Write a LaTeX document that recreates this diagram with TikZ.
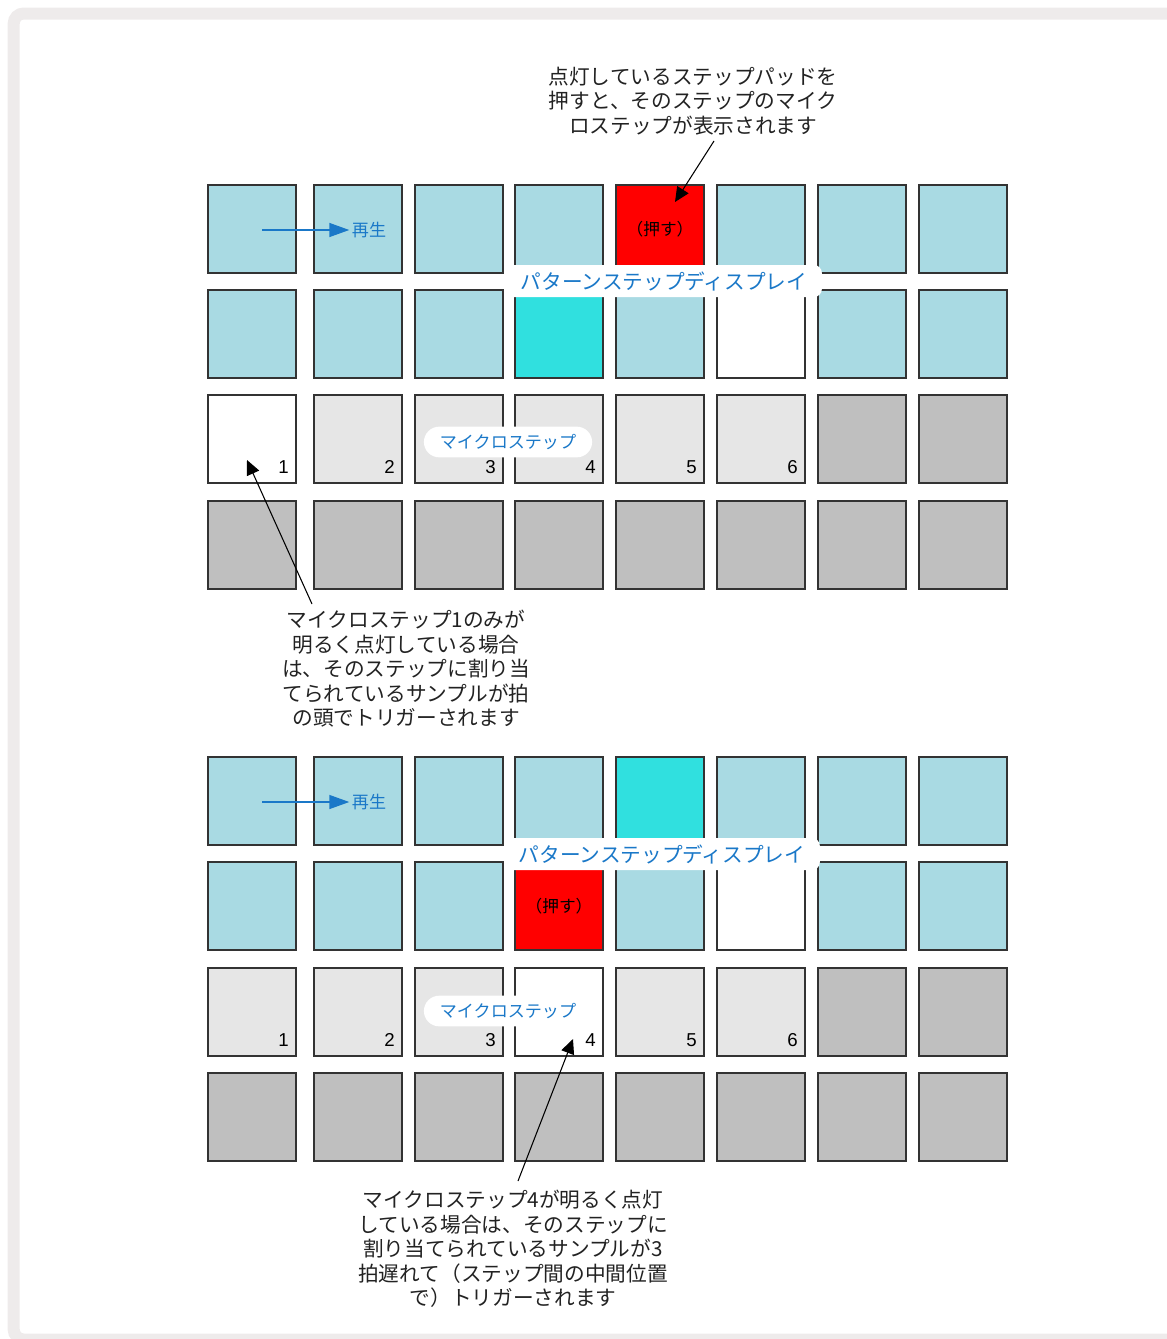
\documentclass[tikz,border=0pt]{standalone}
\usepackage{fontspec}
\newfontfamily\jp{Noto Sans CJK JP}
\newfontfamily\jphalt[RawFeature=+halt]{Noto Sans CJK JP}
\newfontfamily\digitfont{Liberation Sans}
\usetikzlibrary{arrows.meta}
\definecolor{padblue}{HTML}{A9DAE3}
\definecolor{padcyan}{HTML}{30E0DF}
\definecolor{padgray}{HTML}{BFBFBF}
\definecolor{padlight}{HTML}{E6E6E6}
\definecolor{padred}{HTML}{FF0000}
\definecolor{labelblue}{HTML}{1A78C8}
\definecolor{framegray}{HTML}{EEEBEB}
\definecolor{txt}{HTML}{222222}
\tikzset{
  pad/.style={draw=black!80, line width=1pt, minimum width=66pt, minimum height=66pt, inner sep=0pt, outer sep=0pt},
  digit/.style={font=\digitfont\fontsize{14}{16}\selectfont, text=black, inner sep=0pt, anchor=base east},
  pressed/.style={font=\jphalt\fontsize{12.5}{15}\selectfont, text=black, inner sep=0pt},
  patlabel/.style={fill=white, rounded corners=6pt, text=labelblue, font=\jp\fontsize{15.5}{18}\selectfont, inner xsep=11pt, inner ysep=0pt, minimum height=24pt},
  microlabel/.style={fill=white, rounded corners=11.5pt, text=labelblue, font=\jp\fontsize{12.8}{15}\selectfont, inner xsep=12pt, inner ysep=0pt, minimum height=23pt},
  playlabel/.style={text=labelblue, font=\jp\fontsize{12.8}{15}\selectfont, inner sep=2pt, outer sep=0pt},
  playarrow/.style={draw=labelblue, line width=1.1pt, -{Triangle[length=15pt, width=10.5pt]}},
  note/.style={text=txt, font=\jp\fontsize{15.5}{18.4}\selectfont, align=center, inner sep=0pt},
  notearrow/.style={draw=black, line width=0.8pt, -{Triangle[length=11pt, width=10pt]}}
}
\newcommand\padrow[3]{%
  \foreach \cc [count=\i] in {#3} {
    \pgfmathsetmacro\xl{{208,314,415,515,616,717,818,919}[\i-1]}
    \node[pad, fill=\cc] (#1-\i) at (\xl+44, #2+44) {};
  }%
}
\begin{document}
\begin{tikzpicture}[x=0.75pt, y=-0.75pt]
\path[use as bounding box] (0,0) rectangle (1167,1339);
\begin{scope}
\clip (0,0) rectangle (1167,1339);
\draw[framegray, line width=9pt, rounded corners=7.5pt] (13.7,13.5) rectangle (1200,1339.5);
\end{scope}

% ---------- top grid ----------
\padrow{ta1}{185}{padblue,padblue,padblue,padblue,padred,padblue,padblue,padblue}
\padrow{ta2}{290}{padblue,padblue,padblue,padcyan,padblue,white,padblue,padblue}
\padrow{ta3}{395}{white,padlight,padlight,padlight,padlight,padlight,padgray,padgray}
\padrow{ta4}{501}{padgray,padgray,padgray,padgray,padgray,padgray,padgray,padgray}

\foreach \i in {1,...,6} {
  \node[digit] (tdig\i) at ([xshift=-5.25pt, yshift=7.5pt]ta3-\i.south east) {\i};
}
\node[pressed] (tpress) at (ta1-5) {（押す）};
\node[patlabel] (tpat) at (664,281) {パターンステップディスプレイ};
\node[microlabel] (tmicro) at (508,442) {マイクロステップ};
\node[playlabel] (tplay) at (369,230) {再生};
\coordinate (tplaystart) at (262,230);
\draw[playarrow] (tplaystart) -- (tplay.west);

\node[note] (note1) at (693,101) {点灯しているステップパッドを\\押すと、そのステップのマイク\\ロステップが表示されます};
\coordinate (n1s) at (714,141);
\coordinate (n1e) at (675,202);
\draw[notearrow] (n1s) -- (n1e);

\node[note] (note2) at (406,669) {マイクロステップ1のみが\\明るく点灯している場合\\は、そのステップに割り当\\てられているサンプルが拍\\の頭でトリガーされます};
\coordinate (n2s) at (312,604);
\coordinate (n2e) at (247,460);
\draw[notearrow] (n2s) -- (n2e);

% ---------- bottom grid ----------
\padrow{tb1}{757}{padblue,padblue,padblue,padblue,padcyan,padblue,padblue,padblue}
\padrow{tb2}{862}{padblue,padblue,padblue,padred,padblue,white,padblue,padblue}
\padrow{tb3}{968}{padlight,padlight,padlight,white,padlight,padlight,padgray,padgray}
\padrow{tb4}{1073}{padgray,padgray,padgray,padgray,padgray,padgray,padgray,padgray}

\foreach \i in {1,...,6} {
  \node[digit] (bdig\i) at ([xshift=-5.25pt, yshift=7.5pt]tb3-\i.south east) {\i};
}
\node[pressed] (bpress) at (tb2-4) {（押す）};
\node[patlabel] (bpat) at (662,854) {パターンステップディスプレイ};
\node[microlabel] (bmicro) at (508,1011) {マイクロステップ};
\node[playlabel] (bplay) at (369,802) {再生};
\coordinate (bplaystart) at (262,802);
\draw[playarrow] (bplaystart) -- (bplay.west);

\node[note] (note3) at (513,1249) {マイクロステップ4が明るく点灯\\している場合は、そのステップに\\割り当てられているサンプルが3\\拍遅れて（ステップ間の中間位置\\で）トリガーされます};
\coordinate (n3s) at (518,1181);
\coordinate (n3e) at (573,1039);
\draw[notearrow] (n3s) -- (n3e);
\end{tikzpicture}
\end{document}
